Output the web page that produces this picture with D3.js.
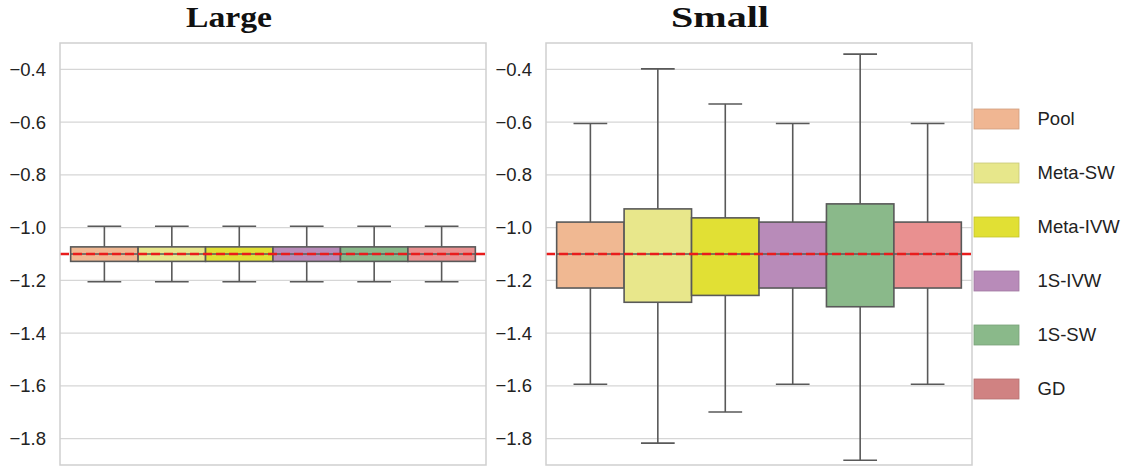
<!DOCTYPE html>
<html>
<head>
<meta charset="utf-8">
<script src="https://cdn.jsdelivr.net/npm/d3@7"></script>
<style>
  html, body { margin: 0; padding: 0; background: #fff; }
  svg { display: block; }
</style>
</head>
<body>
<svg id="chart" width="1128" height="470"></svg>
<script>
// ---------- DATA ----------
const methods = ["Pool", "Meta-SW", "Meta-IVW", "1S-IVW", "1S-SW", "GD"];
const boxColors = ["#f0b892", "#e8e78b", "#e1e034", "#b88bb9", "#8ab98a", "#e99090"];
const legendColors = ["#f0b692", "#e7e78b", "#e1e034", "#b88bb9", "#8ab98a", "#d08282"];
const panels = ["Large", "Small"];
// [lower whisker, q1, median, q3, upper whisker]
const largeStats = [
  [-1.205, -1.128, -1.100, -1.073, -0.995],
  [-1.205, -1.128, -1.100, -1.073, -0.995],
  [-1.205, -1.128, -1.100, -1.073, -0.995],
  [-1.205, -1.128, -1.100, -1.073, -0.995],
  [-1.205, -1.128, -1.100, -1.073, -0.995],
  [-1.205, -1.128, -1.100, -1.073, -0.995]
];
const smallStats = [
  [-1.594, -1.229, -1.100, -0.979, -0.605],
  [-1.817, -1.283, -1.100, -0.929, -0.398],
  [-1.699, -1.257, -1.100, -0.963, -0.531],
  [-1.594, -1.229, -1.100, -0.979, -0.605],
  [-1.882, -1.300, -1.100, -0.910, -0.342],
  [-1.594, -1.229, -1.100, -0.979, -0.605]
];
const yTicks = [-1.8, -1.6, -1.4, -1.2, -1.0, -0.8, -0.6, -0.4];
const yDomain = [-1.9, -0.3];
const trueValue = -1.1;

// ---------- LAYOUT ----------
const svg = d3.select("#chart");
const plotTop = 43, plotBottom = 465;
const panelX = [[60, 486], [546, 972]];
const titleX = [229, 720];
const titleW = [86, 98];
const stroke = "#595959";

const y = d3.scaleLinear().domain(yDomain).range([plotBottom, plotTop]);
const fmt = d => d3.format(".1f")(d).replace("-", "\u2212");

[largeStats, smallStats].forEach((stats, pi) => {
  const [x0, x1] = panelX[pi];
  const g = svg.append("g");
  const x = d3.scaleBand().domain(methods).range([x0, x1]).paddingInner(0).paddingOuter(0.158);
  const bw = x.bandwidth();

  // gridlines
  g.selectAll(".grid").data(yTicks).enter().append("line")
    .attr("x1", x0).attr("x2", x1)
    .attr("y1", d => y(d)).attr("y2", d => y(d))
    .attr("stroke", "#d6d6d6").attr("stroke-width", 1.2);

  // y axis labels
  const axis = d3.axisLeft(y).tickValues(yTicks).tickFormat(fmt).tickSize(0).tickPadding(14);
  const ag = g.append("g").attr("transform", `translate(${x0},0)`).call(axis);
  ag.select(".domain").remove();
  ag.selectAll("text")
    .attr("font-family", "'Liberation Sans', Arial, sans-serif")
    .attr("font-size", "18.5px").attr("fill", "#222");

  // boxes
  const bg = g.selectAll(".box").data(stats).enter().append("g");
  bg.each(function(s, i) {
    const sel = d3.select(this);
    const m = methods[i];
    const cx = x(m) + bw / 2;
    const capW = bw * 0.5;
    sel.append("line").attr("x1", cx).attr("x2", cx).attr("y1", y(s[3])).attr("y2", y(s[4]))
      .attr("stroke", stroke).attr("stroke-width", 1.6);
    sel.append("line").attr("x1", cx).attr("x2", cx).attr("y1", y(s[1])).attr("y2", y(s[0]))
      .attr("stroke", stroke).attr("stroke-width", 1.6);
    [s[0], s[4]].forEach(v => {
      sel.append("line").attr("x1", cx - capW / 2).attr("x2", cx + capW / 2)
        .attr("y1", y(v)).attr("y2", y(v))
        .attr("stroke", stroke).attr("stroke-width", 1.6);
    });
    sel.append("rect").attr("x", x(m)).attr("width", bw)
      .attr("y", y(s[3])).attr("height", y(s[1]) - y(s[3]))
      .attr("fill", boxColors[i]).attr("stroke", stroke).attr("stroke-width", 1.6);
    sel.append("line").attr("x1", x(m)).attr("x2", x(m) + bw)
      .attr("y1", y(s[2])).attr("y2", y(s[2]))
      .attr("stroke", stroke).attr("stroke-width", 1.6);
  });

  // reference line
  g.append("line").attr("x1", x0).attr("x2", x1)
    .attr("y1", y(trueValue)).attr("y2", y(trueValue))
    .attr("stroke", "#e81c1c").attr("stroke-width", 2.3)
    .attr("stroke-dasharray", "9,4");

  // frame
  g.append("rect").attr("x", x0).attr("y", plotTop).attr("width", x1 - x0).attr("height", plotBottom - plotTop)
    .attr("fill", "none").attr("stroke", "#cfcfcf").attr("stroke-width", 1.5);

  // title
  g.append("text").attr("x", titleX[pi]).attr("y", 27)
    .attr("text-anchor", "middle")
    .attr("font-family", "'Liberation Serif', 'Times New Roman', serif")
    .attr("font-weight", "bold").attr("font-size", "29px").attr("fill", "#111")
    .attr("textLength", titleW[pi]).attr("lengthAdjust", "spacingAndGlyphs")
    .text(panels[pi]);
});

// ---------- LEGEND ----------
const lg = svg.append("g");
const ly = d3.scaleBand().domain(methods).range([92, 416]);
methods.forEach((m, i) => {
  const cy = ly(m) + ly.bandwidth() / 2;
  lg.append("rect").attr("x", 974).attr("y", cy - 10).attr("width", 45).attr("height", 20)
    .attr("fill", legendColors[i]).attr("stroke", d3.color(legendColors[i]).darker(0.4))
    .attr("stroke-width", 0.8);
  lg.append("text").attr("x", 1037.5).attr("y", cy).attr("dy", "0.35em")
    .attr("font-family", "'Liberation Sans', Arial, sans-serif")
    .attr("font-size", "18.5px").attr("fill", "#222").text(m);
});
</script>
</body>
</html>
